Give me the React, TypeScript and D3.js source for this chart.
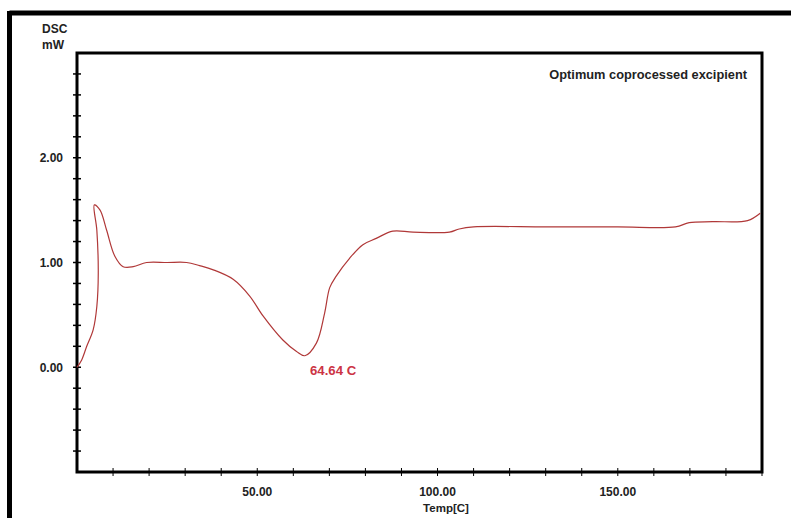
import React from "react";
import * as d3 from "d3";

// DSC trace
const temps = [0, 1.3, 2.7, 4.5, 5.5, 5.9, 5.5, 4.8, 6.4, 8.2, 10.5, 12.8, 15.6, 19.3, 25, 30.4, 34, 37.8, 43.3, 47.9, 51.6, 57.1, 60.9, 63.2, 66.4, 68.7, 70.1, 71.9, 75.6, 79.3, 83, 87.6, 93.2, 103.3, 106, 110, 130, 150, 166, 169.8, 176.3, 186, 189.5];
const heatFlow = [0, 0.07, 0.2, 0.36, 0.58, 0.9, 1.31, 1.55, 1.5, 1.31, 1.06, 0.96, 0.96, 1.0, 1.0, 1.0, 0.97, 0.93, 0.84, 0.68, 0.49, 0.26, 0.15, 0.11, 0.23, 0.52, 0.76, 0.87, 1.04, 1.17, 1.23, 1.3, 1.29, 1.29, 1.32, 1.34, 1.34, 1.34, 1.34, 1.38, 1.39, 1.4, 1.47];

const xLabelTicks = [50, 100, 150];
const yLabelTicks = [0, 1, 2];
const peakLabel = "64.64 C";
const peakTemp = 64.64;
const title = "Optimum coprocessed excipient";

const W = 791;
const H = 518;
const plot = { left: 77, top: 53, right: 762, bottom: 472 };
const font = "'Liberation Sans', Arial, sans-serif";

export default function App() {
  const x = d3.scaleLinear().domain([0, 190]).range([plot.left, plot.right]);
  const y = d3.scaleLinear().domain([-1, 3]).range([plot.bottom, plot.top]);

  const pts = temps.map((t, i) => [t, heatFlow[i]] as [number, number]);
  const path = d3
    .line<[number, number]>()
    .x((d) => x(d[0]))
    .y((d) => y(d[1]))
    .curve(d3.curveCatmullRom.alpha(0.5))(pts);

  const xMinor = d3.range(10, 190.01, 10);
  const yMinor = d3.range(-0.8, 3.0, 0.2);
  // bottom of the melting valley
  const valley = d3.min(pts.filter((p) => p[0] > 30), (p) => p[1]) as number;

  return (
    <svg
      width={W}
      height={H}
      style={{ position: "absolute", left: 0, top: 0, background: "#fff" }}
      fontFamily={font}
    >
      {/* outer window frame */}
      <line x1={9.5} y1={13} x2={W} y2={13} stroke="#000" strokeWidth={5} />
      <line x1={9.5} y1={11} x2={9.5} y2={H} stroke="#000" strokeWidth={5} />

      <rect
        x={plot.left}
        y={plot.top}
        width={plot.right - plot.left}
        height={plot.bottom - plot.top}
        fill="none"
        stroke="#000"
        strokeWidth={3}
      />

      {xMinor.map((t) => (
        <line key={"xt" + t} x1={x(t)} x2={x(t)} y1={plot.bottom - 4} y2={plot.bottom + 4} stroke="#000" strokeWidth={1} />
      ))}
      {yMinor.map((v) => (
        <line key={"yt" + v} x1={plot.left - 4} x2={plot.left + 4} y1={y(v)} y2={y(v)} stroke="#000" strokeWidth={1.5} />
      ))}

      {xLabelTicks.map((t) => (
        <text key={"xl" + t} x={x(t)} y={496} textAnchor="middle" fontSize={12} fontWeight="bold" fill="#222">
          {t.toFixed(2)}
        </text>
      ))}
      {yLabelTicks.map((v) => (
        <text key={"yl" + v} x={63} y={y(v)} dy="0.36em" textAnchor="end" fontSize={12} fontWeight="bold" fill="#222">
          {v.toFixed(2)}
        </text>
      ))}

      <text x={446} y={512} textAnchor="middle" fontSize={11.5} fontWeight="bold" fill="#222">
        Temp[C]
      </text>
      <text x={42} y={33} fontSize={12} fontWeight="bold" fill="#222">
        DSC
      </text>
      <text x={42} y={49} fontSize={12} fontWeight="bold" fill="#222">
        mW
      </text>
      <text x={747} y={79} textAnchor="end" fontSize={12.8} fontWeight="bold" fill="#222">
        {title}
      </text>

      <path d={path ?? ""} fill="none" stroke="#b03838" strokeWidth={1.2} />

      <text x={x(peakTemp)} y={y(valley) + 19} fontSize={13.2} fontWeight="bold" fill="#cc3344">
        {peakLabel}
      </text>
    </svg>
  );
}
